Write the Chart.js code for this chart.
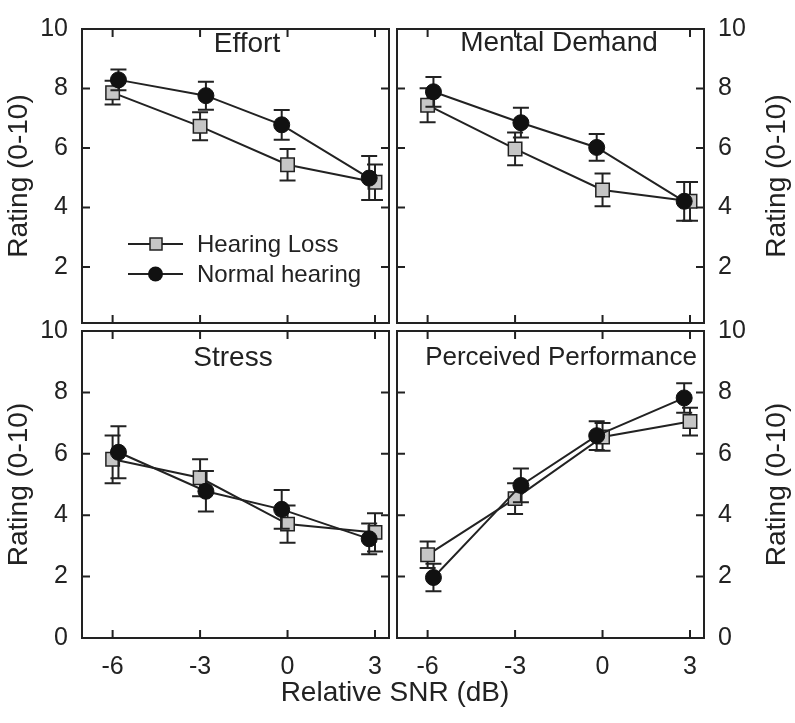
<!DOCTYPE html>
<html>
<head>
<meta charset="utf-8">
<script src="https://cdn.jsdelivr.net/npm/chart.js@4.4.1/dist/chart.umd.min.js"></script>
<style>
  html, body { margin: 0; padding: 0; background: #fff; }
  #wrap { position: relative; width: 795px; height: 723px; }
  #wrap canvas { position: absolute; left: 0; top: 0; }
</style>
</head>
<body>
<div id="wrap">
  <canvas id="effort" width="795" height="723"></canvas>
  <canvas id="mental" width="795" height="723"></canvas>
  <canvas id="stress" width="795" height="723"></canvas>
  <canvas id="perf" width="795" height="723"></canvas>
</div>
<script>
// x positions (NH points are nudged sideways in the original figure)
const snrHL = [-6, -3, 0, 3];
const snrNH = [-5.8, -2.8, -0.2, 2.8];
const xTickLabels = ['-6', '-3', '0', '3'];
const topRatingTicks = [2, 4, 6, 8, 10];
const bottomRatingTicks = [0, 2, 4, 6, 8, 10];

const effortHL = [7.86, 6.73, 5.44, 4.85];
const effortHLErr = [0.40, 0.47, 0.53, 0.60];
const effortNH = [8.29, 7.76, 6.78, 4.99];
const effortNHErr = [0.35, 0.47, 0.50, 0.74];

const mentalHL = [7.44, 5.97, 4.59, 4.21];
const mentalHLErr = [0.57, 0.55, 0.55, 0.65];
const mentalNH = [7.89, 6.85, 6.02, 4.21];
const mentalNHErr = [0.50, 0.50, 0.45, 0.65];

const stressHL = [5.82, 5.22, 3.71, 3.44];
const stressHLErr = [0.78, 0.60, 0.61, 0.62];
const stressNH = [6.05, 4.78, 4.19, 3.23];
const stressNHErr = [0.85, 0.66, 0.63, 0.50];

const perfHL = [2.71, 4.54, 6.55, 7.05];
const perfHLErr = [0.43, 0.50, 0.45, 0.45];
const perfNH = [1.97, 4.97, 6.59, 7.82];
const perfNHErr = [0.45, 0.55, 0.47, 0.48];

const ink = '#222';
const grey = '#c6c6c6';
const fontFamily = '"Liberation Sans", Arial, Helvetica, sans-serif';

Chart.defaults.font.family = fontFamily;
Chart.defaults.color = ink;

// error bars go under the markers of their own series
const errorBars = {
  id: 'errorBars',
  beforeDatasetDraw(chart, args) {
    const ds = chart.data.datasets[args.index];
    const xs = chart.scales.x, ys = chart.scales.y;
    const ctx = chart.ctx;
    ctx.save();
    ctx.strokeStyle = ink;
    ctx.lineWidth = 2;
    ds.data.forEach((p, i) => {
      const px = xs.getPixelForValue(p.x);
      const top = ys.getPixelForValue(p.y + ds.errors[i]);
      const bot = ys.getPixelForValue(p.y - ds.errors[i]);
      ctx.beginPath();
      ctx.moveTo(px, top); ctx.lineTo(px, bot);
      ctx.moveTo(px - 8, top); ctx.lineTo(px + 8, top);
      ctx.moveTo(px - 8, bot); ctx.lineTo(px + 8, bot);
      ctx.stroke();
    });
    ctx.restore();
  }
};

// box frame with inward ticks on all four sides, plus panel texts
const panelFrame = {
  id: 'panelFrame',
  afterDraw(chart, args, opts) {
    const ctx = chart.ctx;
    const a = chart.chartArea;
    const xs = chart.scales.x, ys = chart.scales.y;
    ctx.save();
    ctx.strokeStyle = ink;
    ctx.lineWidth = 2;
    ctx.strokeRect(a.left, a.top, a.right - a.left, a.bottom - a.top);
    ctx.beginPath();
    snrHL.forEach(v => {
      const px = xs.getPixelForValue(v);
      ctx.moveTo(px, a.bottom); ctx.lineTo(px, a.bottom - 8);
      ctx.moveTo(px, a.top); ctx.lineTo(px, a.top + 8);
    });
    [2, 4, 6, 8].forEach(v => {
      const py = ys.getPixelForValue(v);
      ctx.moveTo(a.left, py); ctx.lineTo(a.left + 8, py);
      ctx.moveTo(a.right, py); ctx.lineTo(a.right - 8, py);
    });
    ctx.stroke();

    ctx.fillStyle = ink;
    ctx.textAlign = 'center';
    ctx.textBaseline = 'alphabetic';
    ctx.font = opts.size + 'px ' + fontFamily;
    ctx.fillText(opts.title, opts.x, opts.y);

    if (opts.sideTitle) {
      ctx.save();
      ctx.font = '28px ' + fontFamily;
      ctx.textBaseline = 'middle';
      ctx.translate(777, (a.top + a.bottom) / 2);
      ctx.rotate(-Math.PI / 2);
      ctx.fillText('Rating (0-10)', 0, 0);
      ctx.restore();
    }
    if (opts.xTitle) {
      ctx.font = '28px ' + fontFamily;
      ctx.fillText('Relative SNR (dB)', 395, 701);
    }
    if (opts.legend) {
      const [hl, nh] = chart.data.datasets;
      ctx.lineWidth = 2;
      ctx.beginPath();
      ctx.moveTo(128, 244); ctx.lineTo(183, 244);
      ctx.moveTo(128, 274); ctx.lineTo(183, 274);
      ctx.stroke();
      ctx.fillStyle = grey;
      ctx.fillRect(150, 238, 12, 12);
      ctx.lineWidth = 1.5;
      ctx.strokeRect(150, 238, 12, 12);
      ctx.fillStyle = '#111';
      ctx.beginPath();
      ctx.arc(155.5, 274, 7.5, 0, Math.PI * 2);
      ctx.fill();
      ctx.fillStyle = ink;
      ctx.textAlign = 'left';
      ctx.font = '24px ' + fontFamily;
      ctx.fillText(hl.label, 197, 252);
      ctx.fillText(nh.label, 197, 282);
    }
    ctx.restore();
  }
};

function series(hlVals, hlErr, nhVals, nhErr) {
  return [
    {
      label: 'Hearing Loss',
      data: snrHL.map((x, i) => ({ x: x, y: hlVals[i] })),
      errors: hlErr,
      borderColor: ink,
      borderWidth: 2,
      pointStyle: 'rect',
      pointRadius: 9.5,
      pointBackgroundColor: grey,
      pointBorderColor: ink,
      pointBorderWidth: 1.5,
      order: 1
    },
    {
      label: 'Normal hearing',
      data: snrNH.map((x, i) => ({ x: x, y: nhVals[i] })),
      errors: nhErr,
      borderColor: ink,
      borderWidth: 2,
      pointStyle: 'circle',
      pointRadius: 8,
      pointBackgroundColor: '#111',
      pointBorderColor: '#111',
      pointBorderWidth: 1,
      order: 0
    }
  ];
}

function makeChart(id, datasets, isTop, isLeft, text) {
  return new Chart(document.getElementById(id), {
    type: 'line',
    data: { datasets: datasets },
    plugins: [errorBars, panelFrame],
    options: {
      responsive: false,
      animation: false,
      layout: {
        padding: {
          left: isLeft ? 0 : 397,
          right: isLeft ? 406 : 0,
          top: isTop ? 16 : 331,
          bottom: 0
        }
      },
      plugins: {
        legend: { display: false },
        tooltip: { enabled: false },
        panelFrame: text
      },
      scales: {
        x: {
          type: 'linear',
          min: -7.05,
          max: 3.48,
          afterBuildTicks: s => { s.ticks = snrHL.map(v => ({ value: v })); },
          afterFit: s => { s.height = isTop ? 723 - 323 : 723 - 638; },
          grid: { display: false, drawTicks: false },
          border: { display: false },
          ticks: {
            display: !isTop,
            autoSkip: false,
            maxRotation: 0,
            padding: 14,
            font: { size: 25 },
            color: ink,
            callback: (v, i) => xTickLabels[i]
          }
        },
        y: {
          position: isLeft ? 'left' : 'right',
          min: isTop ? 0.12 : 0,
          max: 10,
          afterBuildTicks: s => {
            s.ticks = (isTop ? topRatingTicks : bottomRatingTicks).map(v => ({ value: v }));
          },
          afterFit: s => { s.width = isLeft ? 82 : 91; },
          grid: { display: false, drawTicks: false },
          border: { display: false },
          ticks: { padding: 14, font: { size: 25 }, color: ink },
          title: {
            display: isLeft,
            text: 'Rating (0-10)',
            font: { size: 28 },
            color: ink,
            padding: { top: 2, bottom: 0 }
          }
        }
      }
    }
  });
}

makeChart('effort', series(effortHL, effortHLErr, effortNH, effortNHErr), true, true,
  { title: 'Effort', x: 247, y: 52, size: 28, legend: true });
makeChart('mental', series(mentalHL, mentalHLErr, mentalNH, mentalNHErr), true, false,
  { title: 'Mental Demand', x: 559, y: 51, size: 28, sideTitle: true });
makeChart('stress', series(stressHL, stressHLErr, stressNH, stressNHErr), false, true,
  { title: 'Stress', x: 233, y: 366, size: 28, xTitle: true });
makeChart('perf', series(perfHL, perfHLErr, perfNH, perfNHErr), false, false,
  { title: 'Perceived Performance', x: 561, y: 365, size: 26, sideTitle: true });
</script>
</body>
</html>
